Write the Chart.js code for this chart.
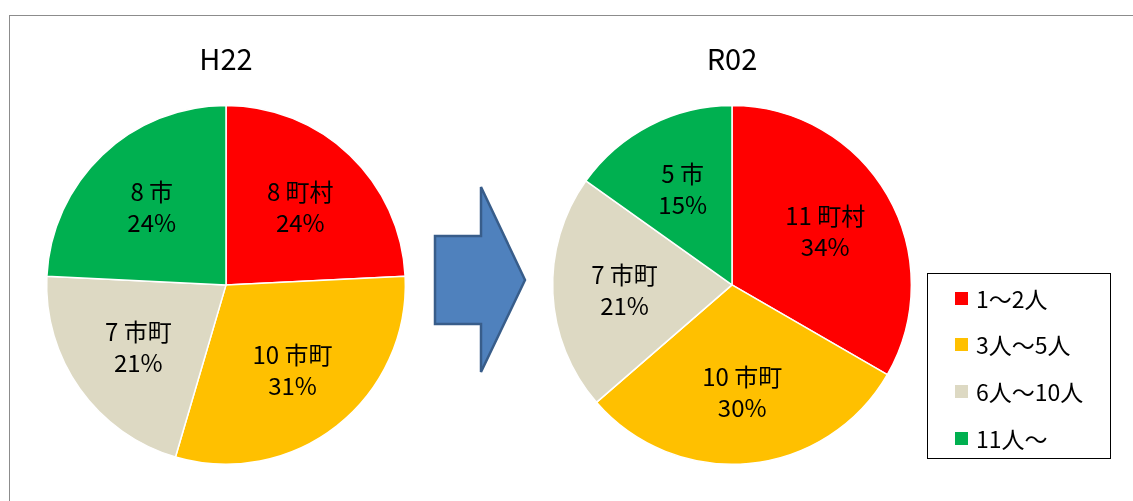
<!DOCTYPE html>
<html>
<head>
<meta charset="utf-8">
<script src="https://cdn.jsdelivr.net/npm/chart.js@4"></script>
<style>
  body { margin: 0; background: #fff; font-family: 'Noto Sans CJK JP', sans-serif; }
  #wrap { position: relative; width: 1133px; height: 501px; overflow: hidden; }
  #frame { position: absolute; left: 9px; top: 15px; width: 1300px; height: 700px;
           border-left: 1.5px solid #8c8c8c; border-top: 1.5px solid #8c8c8c; }
  canvas { position: absolute; }
  #legend { position: absolute; left: 927px; top: 273px; width: 184px; height: 186px;
            border: 1.5px solid #000; box-sizing: border-box; }
  .item { position: absolute; left: 0; height: 30px; display: flex; align-items: center; font-size: 23px; color: #000; white-space: nowrap; }
  .item span.box { display: inline-block; width: 13px; height: 13px; margin-left: 27px; margin-right: 8px; }
  #arrow { position: absolute; left: 0; top: 0; }
</style>
</head>
<body>
<div id="wrap">
  <div id="frame"></div>
  <canvas id="h22" width="380" height="450" style="left:36px; top:30px;"></canvas>
  <canvas id="r02" width="380" height="450" style="left:542px; top:30px;"></canvas>
  <svg id="arrow" width="1133" height="501">
    <polygon points="435,236 481,236 481,187 525,280 481,372 481,324 435,324"
             fill="#4F81BD" stroke="#385D8A" stroke-width="2.5" stroke-linejoin="miter"/>
  </svg>
  <div id="legend"></div>
</div>
<script>
// 区分（凡例）
const categories = ['1～2人', '3人～5人', '6人～10人', '11人～']
const colors = ['#FF0000', '#FFC000', '#DDD9C3', '#00B050']

// H22（市町村数）
const h22Values = [8, 10, 7, 8]
const h22Counts = ['8 町村', '10 市町', '7 市町', '8 市']
const h22Pct = ['24%', '31%', '21%', '24%']

// R02（市町村数）
const r02Values = [11, 10, 7, 5]
const r02Counts = ['11 町村', '10 市町', '7 市町', '5 市']
const r02Pct = ['34%', '30%', '21%', '15%']

const fontFamily = "'Noto Sans CJK JP', sans-serif"

// スライスの中にラベルを書く
const sliceText = {
    id: 'sliceText',
    afterDatasetsDraw(chart, args, opts) {
        const ctx = chart.ctx
        const meta = chart.getDatasetMeta(0)
        ctx.save()
        ctx.fillStyle = '#000'
        ctx.font = '24px ' + fontFamily
        ctx.textAlign = 'center'
        ctx.textBaseline = 'middle'
        meta.data.forEach((arc, i) => {
            const p = arc.getProps(['x', 'y', 'startAngle', 'endAngle', 'outerRadius'], true)
            const mid = (p.startAngle + p.endAngle) / 2
            const r = p.outerRadius * 0.6
            const cx = p.x + Math.cos(mid) * r
            const cy = p.y + Math.sin(mid) * r
            ctx.fillText(opts.top[i], cx, cy - 15)
            ctx.fillText(opts.bottom[i], cx, cy + 16)
        })
        ctx.restore()
    }
}

function makePie(id, title, values, top, bottom) {
    const ctx = document.getElementById(id).getContext('2d')
    return new Chart(ctx, {
        type: 'pie',
        data: {
            labels: categories,
            datasets: [{
                data: values,
                backgroundColor: colors,
                borderColor: '#ffffff',
                borderWidth: 1.5
            }]
        },
        options: {
            responsive: false,
            animation: false,
            layout: { padding: { bottom: 15 } },
            plugins: {
                legend: { display: false },
                tooltip: { enabled: false },
                title: {
                    display: true,
                    text: title,
                    color: '#000',
                    font: { size: 29, family: fontFamily, weight: 'normal' },
                    padding: { top: 12, bottom: 28 }
                },
                sliceText: { top: top, bottom: bottom }
            }
        },
        plugins: [sliceText]
    })
}

makePie('h22', 'H22', h22Values, h22Counts, h22Pct)
makePie('r02', 'R02', r02Values, r02Counts, r02Pct)

// 凡例
const legend = document.getElementById('legend')
const rowTops = [9, 55, 102, 149]
for (let n = 0; n < categories.length; n++) {
    const row = document.createElement('div')
    row.className = 'item'
    row.style.top = rowTops[n] + 'px'
    row.innerHTML = '<span class="box" style="background:' + colors[n] + '"></span>' + categories[n]
    legend.appendChild(row)
}
</script>
</body>
</html>
